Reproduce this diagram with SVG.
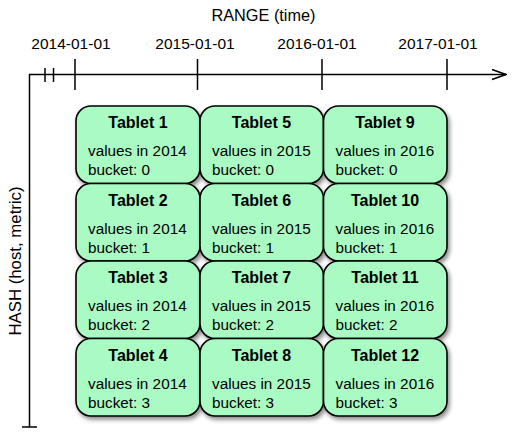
<svg xmlns="http://www.w3.org/2000/svg" width="532" height="447" viewBox="0 0 532 447">
<defs>
<filter id="sh" x="-10%" y="-10%" width="130%" height="130%">
<feDropShadow dx="2" dy="3" stdDeviation="2" flood-color="#000" flood-opacity="0.45"/>
</filter>
<marker id="arr" markerWidth="16" markerHeight="12" refX="15" refY="6" orient="auto" markerUnits="userSpaceOnUse">
<path d="M1,1 L15,6 L1,11" fill="none" stroke="#000" stroke-width="1.6"/>
</marker>
</defs>
<style>
text{font-family:"Liberation Sans",Arial,sans-serif;fill:#000}
.lab{font-size:15.5px;text-anchor:middle}
.t{font-size:16px;font-weight:bold;text-anchor:middle}
.v{font-size:15.3px}
.box{fill:#aafbc3;stroke:#000;stroke-width:1.6;filter:url(#sh)}
.ax{stroke:#000;stroke-width:1.5;fill:none}
</style>
<rect width="532" height="447" fill="#fff"/>
<text class="lab" x="263.5" y="21" style="font-size:16.3px">RANGE (time)</text>
<text class="lab" x="71" y="49">2014-01-01</text>
<text class="lab" x="195" y="49">2015-01-01</text>
<text class="lab" x="317" y="49">2016-01-01</text>
<text class="lab" x="438" y="49">2017-01-01</text>
<text class="lab" transform="translate(21,261) rotate(-90)" style="font-size:16.8px">HASH (host, metric)</text>
<g id="connectors">
<path class="ax" d="M29.5,427 L29.5,74.5 L506,74.5" marker-end="url(#arr)"/>
<path class="ax" d="M45,68 V82 M53.5,68 V82 M75,59 V90 M197.5,59 V90 M322,59 V90 M447,59 V90 M22,427 H37"/>
</g>
<g id="tablet1"><rect class="box" x="76" y="106" width="124" height="77.5" rx="15"/><text class="t" x="138" y="128">Tablet 1</text><text class="v" x="88" y="156">values in 2014</text><text class="v" x="88" y="175">bucket: 0</text></g>
<g id="tablet2"><rect class="box" x="76" y="183.5" width="124" height="77.5" rx="15"/><text class="t" x="138" y="205.5">Tablet 2</text><text class="v" x="88" y="233.5">values in 2014</text><text class="v" x="88" y="252.5">bucket: 1</text></g>
<g id="tablet3"><rect class="box" x="76" y="261" width="124" height="77.5" rx="15"/><text class="t" x="138" y="283">Tablet 3</text><text class="v" x="88" y="311">values in 2014</text><text class="v" x="88" y="330">bucket: 2</text></g>
<g id="tablet4"><rect class="box" x="76" y="338.5" width="124" height="77.5" rx="15"/><text class="t" x="138" y="360.5">Tablet 4</text><text class="v" x="88" y="388.5">values in 2014</text><text class="v" x="88" y="407.5">bucket: 3</text></g>
<g id="tablet5"><rect class="box" x="200" y="106" width="123.5" height="77.5" rx="15"/><text class="t" x="261.5" y="128">Tablet 5</text><text class="v" x="212" y="156">values in 2015</text><text class="v" x="212" y="175">bucket: 0</text></g>
<g id="tablet6"><rect class="box" x="200" y="183.5" width="123.5" height="77.5" rx="15"/><text class="t" x="261.5" y="205.5">Tablet 6</text><text class="v" x="212" y="233.5">values in 2015</text><text class="v" x="212" y="252.5">bucket: 1</text></g>
<g id="tablet7"><rect class="box" x="200" y="261" width="123.5" height="77.5" rx="15"/><text class="t" x="261.5" y="283">Tablet 7</text><text class="v" x="212" y="311">values in 2015</text><text class="v" x="212" y="330">bucket: 2</text></g>
<g id="tablet8"><rect class="box" x="200" y="338.5" width="123.5" height="77.5" rx="15"/><text class="t" x="261.5" y="360.5">Tablet 8</text><text class="v" x="212" y="388.5">values in 2015</text><text class="v" x="212" y="407.5">bucket: 3</text></g>
<g id="tablet9"><rect class="box" x="323.5" y="106" width="123.5" height="77.5" rx="15"/><text class="t" x="385" y="128">Tablet 9</text><text class="v" x="335.5" y="156">values in 2016</text><text class="v" x="335.5" y="175">bucket: 0</text></g>
<g id="tablet10"><rect class="box" x="323.5" y="183.5" width="123.5" height="77.5" rx="15"/><text class="t" x="385" y="205.5">Tablet 10</text><text class="v" x="335.5" y="233.5">values in 2016</text><text class="v" x="335.5" y="252.5">bucket: 1</text></g>
<g id="tablet11"><rect class="box" x="323.5" y="261" width="123.5" height="77.5" rx="15"/><text class="t" x="385" y="283">Tablet 11</text><text class="v" x="335.5" y="311">values in 2016</text><text class="v" x="335.5" y="330">bucket: 2</text></g>
<g id="tablet12"><rect class="box" x="323.5" y="338.5" width="123.5" height="77.5" rx="15"/><text class="t" x="385" y="360.5">Tablet 12</text><text class="v" x="335.5" y="388.5">values in 2016</text><text class="v" x="335.5" y="407.5">bucket: 3</text></g>
</svg>
